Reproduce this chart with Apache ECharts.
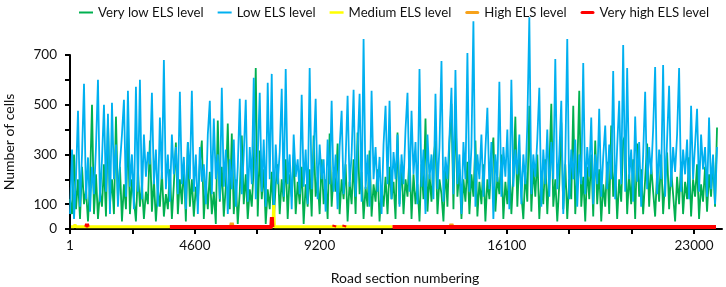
<!DOCTYPE html>
<html><head><meta charset="utf-8">
<script src="https://cdn.jsdelivr.net/npm/echarts@6/dist/echarts.min.js"></script>
<style>html,body{margin:0;padding:0;background:#fff}#c{width:726px;height:287px}</style>
</head><body><div id="c"></div>
<script>
const seriesNames = ['Very low ELS level','Low ELS level','Medium ELS level','High ELS level','Very high ELS level'];
const seriesColors = ['#00B050','#00B0F0','#FFFF00','#F7A21B','#FF0000'];
const xTickLabels = [1, 4600, 9200, 16100, 23000];
const xTickMarks = [0, 2300, 4600, 6900, 9200, 11500, 13800, 16100, 18400, 20700, 23000];
const yTickLabels = [0, 100, 300, 500, 700];
const sampleStep = 73.6; // section numbers between successive samples

const veryLowCells = [
120,60,300,80,200,40,250,100,160,30,
180,500,60,220,40,150,90,260,50,436,
100,200,60,452,120,250,30,180,80,404,
60,200,120,30,240,90,180,40,150,100,
356,70,200,30,160,90,230,50,140,80,
240,40,180,348,60,200,100,260,30,348,
90,200,50,170,110,260,356,40,190,80,
230,60,150,20,436,110,250,50,170,424,
80,384,60,200,20,150,376,100,220,40,
160,90,250,648,50,316,120,240,20,160,
80,230,30,180,260,60,200,110,280,40,
220,130,300,60,190,100,250,20,180,90,
240,50,376,130,210,60,280,100,200,40,
384,90,230,150,344,60,200,120,260,30,
190,100,280,60,388,140,230,40,170,90,
316,50,180,110,240,30,160,90,210,60,
250,120,190,40,388,100,260,60,200,130,
300,40,220,100,180,30,260,120,444,70,
220,110,280,356,60,200,140,30,250,90,
344,504,80,496,130,240,40,200,110,270,
60,220,130,356,50,190,100,260,30,200,
120,280,368,70,210,140,300,40,190,100,
260,60,220,452,90,300,140,40,230,110,
496,70,250,130,300,40,200,100,280,60,
240,504,90,200,30,180,428,80,260,40,
200,120,496,60,230,556,90,210,30,250,
120,300,50,356,100,240,30,180,90,270,
60,416,130,250,40,200,110,356,376,60,
220,100,280,40,344,130,240,60,200,344,
90,260,150,50,230,110,300,60,200,308,
80,240,140,30,210,100,270,60,190,120,
288,50,200,130,260,40,180,110,250,70,
220,130,280,90,408];

const lowCells = [
60,320,40,210,476,90,300,584,120,288,
70,250,140,330,600,110,280,500,150,464,
60,508,200,340,90,260,380,520,130,556,
170,300,80,572,150,600,120,380,210,310,
260,548,180,320,90,448,200,680,160,300,
110,380,220,330,140,552,180,290,80,350,
200,556,150,300,60,330,190,260,100,380,
516,140,444,200,300,120,568,170,320,60,
280,160,360,90,250,524,140,300,520,110,
330,180,608,120,290,548,150,360,90,588,
200,624,60,340,180,310,564,130,644,180,
300,80,380,210,280,140,540,170,320,100,
648,160,300,524,120,340,200,280,70,360,
180,516,150,300,80,330,476,140,280,536,
170,300,560,130,320,544,110,764,160,300,
90,556,200,330,150,290,60,340,496,180,
516,120,310,200,380,90,300,180,400,548,
150,476,220,350,100,644,170,320,60,380,
200,300,120,544,160,330,676,110,290,200,
370,568,140,640,180,300,60,350,200,708,
150,330,836,90,300,200,380,130,320,488,
160,350,40,300,190,592,130,330,210,400,
80,600,170,320,220,380,100,300,180,420,
852,140,300,210,360,568,90,320,180,400,
130,350,200,684,160,300,516,60,280,764,
120,320,200,360,90,300,180,668,140,330,
210,448,100,300,180,484,130,290,416,160,
340,200,636,120,330,516,180,740,150,648,
200,320,110,452,190,350,90,300,552,160,
330,220,400,652,140,320,200,660,130,360,
576,170,330,230,380,648,150,320,220,360,
120,496,200,340,484,150,380,240,330,130,
448,160,300,100,330];

const mediumSection = [37, 150, 184, 220, 3680, 3690, 7330, 7480, 7507, 7534, 11886];
const mediumCells   = [9, 9, 18, 9, 9, null, 9, 9, 96, 9, 9];
const highSection = [5930, 5962, 5994, 6000, 14020, 14058, 14096];
const highCells   = [8, 24, 8, null, 8, 20, 8];
const veryHighSection = [600, 626, 652, 660, 3680, 7330, 7420, 7440, 7460, 7480, 7490, 9730, 9752, 9774, 9780, 10100, 10120, 10140, 10150, 11886, 23810];
const veryHighCells   = [8, 20, 8, null, 8, 8, 8, 48, 8, 8, null, 8, 16, 8, null, 8, 16, 8, null, 8, 8];

const sectionNo = veryLowCells.map((_, i) => Math.round(1 + i * sampleStep));
const pair = (xs, ys) => xs.map((x, i) => [x, ys[i]]);

const FONT = 'Lato';
const chart = echarts.init(document.getElementById('c'), null, {renderer: 'canvas'});
const mk = (idx, data, width) => ({
  name: seriesNames[idx], type: 'line', data: data, showSymbol: false, symbol: 'none',
  clip: false, animation: false, sampling: null, connectNulls: false,
  lineStyle: {color: seriesColors[idx], width: width}, itemStyle: {color: seriesColors[idx]}
});
chart.setOption({
  animation: false,
  grid: {left: 70, right: 4, top: 55, bottom: 58, containLabel: false, outerBoundsMode: 'none'},
  legend: {
    top: 1, left: 74, right: 0, itemGap: 14, itemWidth: 14, itemHeight: 14,
    textStyle: {fontFamily: FONT, fontSize: 13.2, color: '#111'},
    data: [
      {name: seriesNames[0], icon: 'path://M0,0H14V2H0Z'},
      {name: seriesNames[1], icon: 'path://M0,0H14V2H0Z'},
      {name: seriesNames[2], icon: 'path://M0,0H14V2.5H0Z'},
      {name: seriesNames[3], icon: 'path://M2,0H16A2,2 0 0 1 16,4H2A2,2 0 0 1 2,0Z'},
      {name: seriesNames[4], icon: 'path://M2,0H16A2,2 0 0 1 16,4H2A2,2 0 0 1 2,0Z'}
    ]
  },
  xAxis: {
    type: 'value', min: 0, max: 24030,
    axisLine: {lineStyle: {color: '#000', width: 2}},
    axisTick: {length: 5, lineStyle: {color: '#000', width: 2}, customValues: xTickMarks},
    axisLabel: {customValues: xTickLabels, margin: 10, fontFamily: FONT, fontSize: 13.5, color: '#111',
      formatter: v => String(v)},
    splitLine: {show: false},
    name: 'Road section numbering', nameLocation: 'middle', nameGap: 42,
    nameTextStyle: {fontFamily: FONT, fontSize: 14, color: '#111', padding: [0, 0, 0, 18]}
  },
  yAxis: {
    type: 'value', min: 0, max: 700, interval: 100,
    axisLine: {show: true, lineStyle: {color: '#000', width: 2}},
    axisTick: {show: true, length: 5, lineStyle: {color: '#000', width: 2}},
    axisLabel: {customValues: yTickLabels, margin: 13, fontFamily: FONT, fontSize: 13.5, color: '#111',
      formatter: v => String(v)},
    splitLine: {show: false},
    name: 'Number of cells', nameLocation: 'middle', nameGap: 54, nameRotate: 90,
    nameTextStyle: {fontFamily: FONT, fontSize: 14, color: '#111'}
  },
  series: [
    mk(0, pair(sectionNo, veryLowCells), 1.8),
    mk(1, pair(sectionNo, lowCells), 1.8),
    mk(2, pair(mediumSection, mediumCells), 3),
    mk(3, pair(highSection, highCells), 4),
    mk(4, pair(veryHighSection, veryHighCells), 4)
  ]
});
</script></body></html>
